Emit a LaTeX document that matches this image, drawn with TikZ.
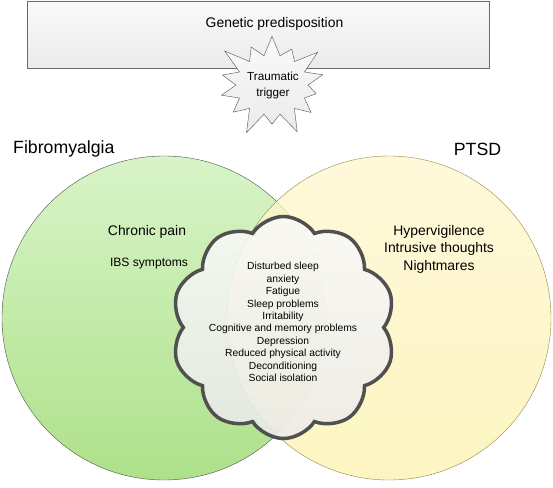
\documentclass[tikz,border=0pt]{standalone}
\usepackage{fontspec}
\setmainfont{Liberation Sans}
\usetikzlibrary{shapes.symbols}
\definecolor{fibrotop}{RGB}{216,244,200}
\definecolor{fibrobot}{RGB}{174,225,138}
\definecolor{ptsdtop}{RGB}{255,247,208}
\definecolor{ptsdbot}{RGB}{253,242,176}
\definecolor{edge}{RGB}{80,80,80}
\def\r{324pt}
\def\fs#1#2{\fontsize{#1}{#2}\selectfont}

\begin{document}
\begin{tikzpicture}[x=1pt,y=-1pt,
    venn/.style={circle, minimum size=\r, inner sep=0pt},
    txt/.style={inner sep=0pt, align=center},
    greybox/.style={draw=edge, top color=gray!4, bottom color=gray!16},
    ]
    \useasboundingbox (0,0) rectangle (553,487);
    \pgfmathsetseed{7}
    % genes on top
    \node[greybox, draw=edge!85, minimum width=462pt, minimum height=67pt, inner sep=0pt] (genes) at (258,34.5) {};
    \node[txt, font=\fs{13.9}{16}] (geneslabel) at (274.5,24) {Genetic predisposition};
    % the two sets
    \node[venn, draw=edge, top color=fibrotop, bottom color=fibrobot] (fibro) at (164,318) {};
    \node[venn, draw=olive!55!gray, top color=ptsdtop, bottom color=ptsdbot, fill opacity=0.78] (ptsd) at (389,318) {};
    \node[font=\fs{17.7}{20}, anchor=west, inner sep=0pt] (fibrolabel) at (13,149) {Fibromyalgia};
    \node[txt, font=\fs{17.7}{20}] (ptsdlabel) at (477.5,149) {PTSD};
    \node[txt, font=\fs{13.9}{16}] (pain) at (147,232) {Chronic pain};
    \node[txt, font=\fs{12.1}{14}] (ibs) at (149,264) {IBS symptoms};
    \node[txt, font=\fs{13.9}{17.5}] (ptsdsym) at (439,249) {Hypervigilence\\Intrusive thoughts\\Nightmares};
    % overlap
    \node[cloud, cloud puffs=10, cloud puff arc=115, aspect=1, greybox, line width=3.5pt, fill opacity=0.85, minimum width=224pt, minimum height=222pt, inner sep=0pt] (shared) at (283.5,327.5) {};
    \node[txt, font=\fs{10.3}{12.4}] (sharedsym) at (283,322) {Disturbed sleep\\anxiety\\Fatigue\\Sleep problems\\Irritability\\Cognitive and memory problems\\Depression\\Reduced physical activity\\Deconditioning\\Social isolation};
    % trigger
    \node[starburst, starburst points=14, starburst point height=26pt, greybox, minimum width=124pt, minimum height=112pt, inner sep=0pt] (trigger) at (272,85) {};
    \node[txt, font=\fs{11.7}{16}] (triggerlabel) at (273,85) {Traumatic\\trigger};
\end{tikzpicture}
\end{document}
